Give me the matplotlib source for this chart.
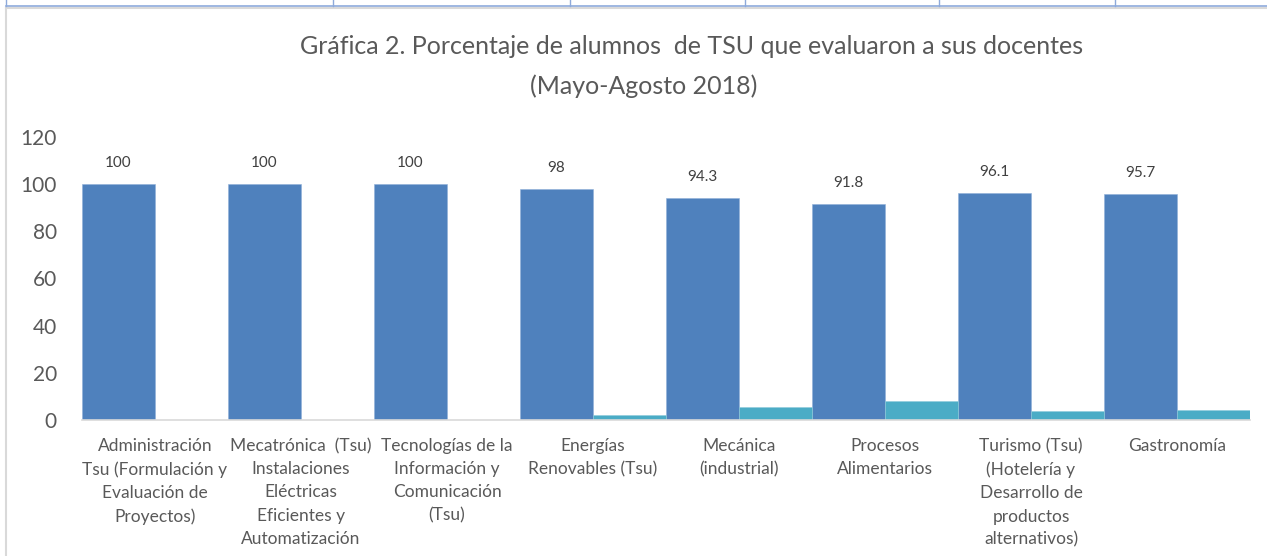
# Gráfica de barras: porcentaje de alumnos de TSU que evaluaron a sus docentes

import matplotlib.pyplot as plt
import numpy as np
from matplotlib.lines import Line2D

plt.rcParams['font.family'] = ['Lato', 'DejaVu Sans']

carreras = [
    'Administración\nTsu (Formulación y\nEvaluación de\nProyectos)',
    'Mecatrónica  (Tsu)\nInstalaciones\nEléctricas\nEficientes y\nAutomatización',
    'Tecnologías de la\nInformación y\nComunicación\n(Tsu)',
    'Energías\nRenovables (Tsu)',
    'Mecánica\n(industrial)',
    'Procesos\nAlimentarios',
    'Turismo (Tsu)\n(Hotelería y\nDesarrollo de\nproductos\nalternativos)',
    'Gastronomía',
]
evaluaron = [100, 100, 100, 98, 94.3, 91.8, 96.1, 95.7]
no_evaluaron = [0, 0, 0, 2, 5.7, 8.2, 3.9, 4.3]

gris = '#595959'
x = np.arange(len(carreras))
ancho = 0.5

fig = plt.figure(figsize=(12.67, 5.56), dpi=100)
ax = fig.add_axes([82 / 1267, 1 - 420 / 556, (1250 - 82) / 1267, (420 - 137) / 556])

barras = ax.bar(x - ancho / 2, evaluaron, ancho, color='#4F81BD',
                edgecolor='#8fb0d8', linewidth=0.4)
ax.bar(x + ancho / 2, no_evaluaron, ancho, color='#4BACC6',
       edgecolor='#8fcbdb', linewidth=0.4)

# Etiquetas de datos
for b, v in zip(barras, evaluaron):
    ax.annotate(f'{v:g}', (b.get_x() + b.get_width() / 2, v),
                xytext=(0, 10), textcoords='offset points',
                ha='center', va='bottom', fontsize=11, color='#404040')

ax.set_xlim(-0.5, len(carreras) - 0.5)
ax.set_ylim(0, 120)
ax.set_yticks(range(0, 121, 20))
ax.set_xticks(x)
ax.set_xticklabels(carreras, fontsize=12.5, color=gris, linespacing=1.55)
ax.tick_params(axis='y', labelsize=15, labelcolor=gris, length=0, pad=18)
ax.tick_params(axis='x', length=0, pad=13)

for lado in ['top', 'right', 'left']:
    ax.spines[lado].set_visible(False)
ax.spines['bottom'].set_color('#d9d9d9')
ax.spines['bottom'].set_linewidth(1.2)

# Título
fig.text(692 / 1267, 1 - 47 / 556,
         'Gráfica 2. Porcentaje de alumnos  de TSU que evaluaron a sus docentes',
         ha='center', va='center', fontsize=18, color=gris)
fig.text(644 / 1267, 1 - 86 / 556, '(Mayo-Agosto 2018)',
         ha='center', va='center', fontsize=18, color=gris)

# Borde del área del gráfico y líneas de la tabla
fig.add_artist(Line2D([6 / 1267, 6 / 1267], [0, 1 - 8 / 556],
                      transform=fig.transFigure, color='#d9d9d9', lw=1.5))
fig.add_artist(Line2D([6 / 1267, 1], [1 - 8 / 556, 1 - 8 / 556],
                      transform=fig.transFigure, color='#d9d9d9', lw=1.5))
fig.add_artist(Line2D([6 / 1267, 1], [1 - 6 / 556, 1 - 6 / 556],
                      transform=fig.transFigure, color='#8eaadb', lw=1.2))
for xv in [6, 333, 570, 745, 939, 1115]:
    fig.add_artist(Line2D([xv / 1267, xv / 1267], [1 - 6 / 556, 1],
                          transform=fig.transFigure, color='#8eaadb', lw=1))

fig.savefig('out.png', dpi=100)
